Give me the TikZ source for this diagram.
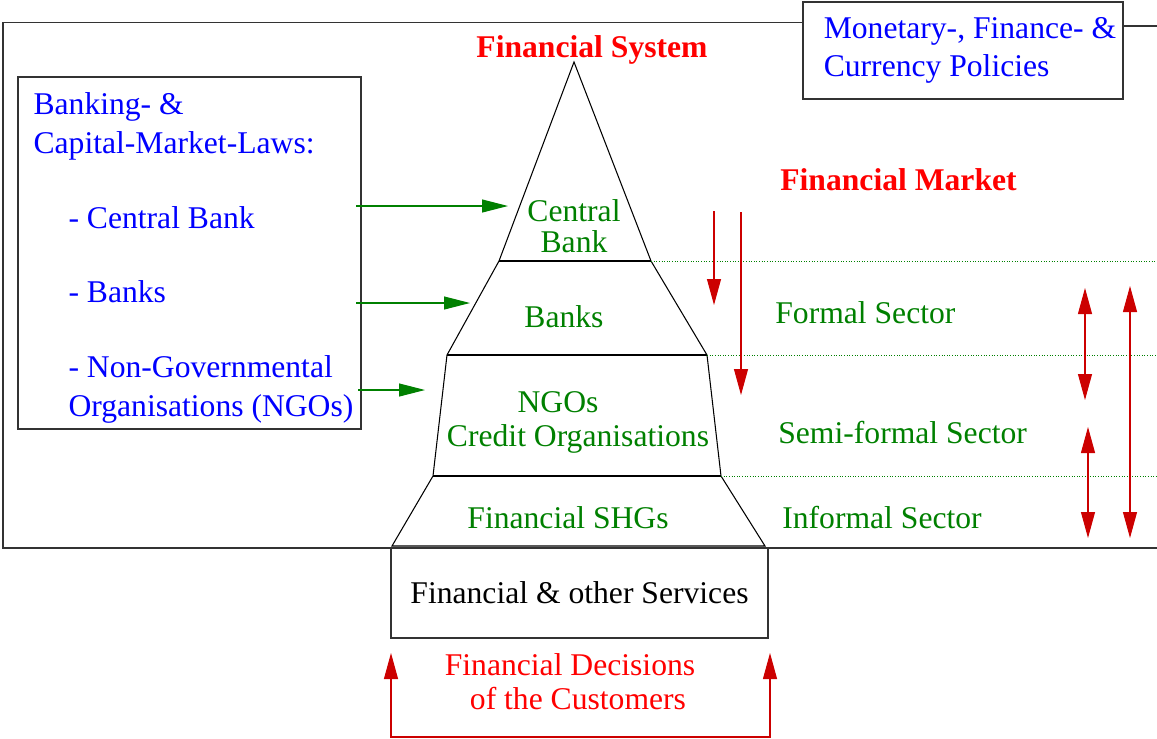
\documentclass[tikz,border=0pt]{standalone}
\usepackage{fontspec}
\setmainfont{Liberation Serif}
\usepackage{tikz}
\usetikzlibrary{calc, positioning, arrows.meta}
\tikzset{
    heading/.style={font=\fontsize{18pt}{22pt}\selectfont\bfseries, text=red, inner sep=0pt},
    lawbox/.style={rectangle, draw=black!80, thick, text=blue, align=left, minimum width=6.86cm, minimum height=7cm},
    policy/.style={rectangle, draw=black!80, thick, text=blue, align=left, minimum width=6.4cm, minimum height=1.94cm, font=\fontsize{18pt}{21.6pt}\selectfont},
    tier/.style={text=green!50!black, align=center, inner sep=0pt},
    sector/.style={text=green!50!black, anchor=base west, inner sep=0pt},
    service/.style={rectangle, draw=black!80, thick, minimum width=7.54cm, minimum height=1.8cm},
    outline/.style={draw=black, line width=0.6pt},
    frameline/.style={draw=black!80, thick},
    divider/.style={draw=green!50!black, densely dotted, line width=0.5pt},
    flow/.style={-{Triangle[length=0.52cm, width=0.26cm]}, draw=green!50!black, fill=green!50!black, line width=0.6pt},
    push/.style={-{Triangle[length=0.52cm, width=0.28cm]}, draw=red!80!black, line width=0.6pt},
    swing/.style={{Triangle[length=0.52cm, width=0.28cm]}-{Triangle[length=0.52cm, width=0.28cm]}, draw=red!80!black, line width=0.6pt}
}

\begin{document}
\begin{tikzpicture}[x=0.02cm, y=-0.02cm, font=\fontsize{18pt}{22pt}\selectfont]
        \useasboundingbox (0,0) rectangle (1157,738);

        % Policies and outer frame
        \node[policy] (Policy) at (963,50.5) {\hspace*{0.28cm}Monetary-, Finance- \&\\\hspace*{0.28cm}Currency Policies};
        \coordinate (corner) at (3,22.5);
        \coordinate (rim) at (1157,548);
        \coordinate (link) at (1157,26);
        \draw[frameline] (Policy.west |- corner) -- (corner) -- (corner |- rim) -- (rim);
        \draw[frameline] (link -| Policy.east) -- (link);

        % Laws
        \node[lawbox] (Laws) at (189.5,253) {\hspace*{0.16cm}\rule{0pt}{0.64cm}Banking- \&\\
            \hspace*{0.16cm}Capital-Market-Laws:\\[0.72cm]
            \hspace*{0.86cm}- Central Bank\\[0.72cm]
            \hspace*{0.86cm}- Banks\\[0.72cm]
            \hspace*{0.86cm}- Non-Governmental\\
            \hspace*{0.86cm}Organisations (NGOs)};

        % Pyramid corners
        \coordinate (apex) at (574,62);
        \coordinate (cbL) at (499,261);
        \coordinate (cbR) at (651,261);
        \coordinate (bkL) at (447,355);
        \coordinate (bkR) at (707,355);
        \coordinate (ngL) at (433,476);
        \coordinate (ngR) at (721,476);
        \coordinate (shL) at (392,546);
        \coordinate (shR) at (765,546);

        % Pyramid
        \draw[outline] (apex) -- (cbR) -- (bkR) -- (ngR) -- (shR) -- (shL) -- (ngL) -- (bkL) -- (cbL) -- cycle;
        \draw[outline] (cbL) -- (cbR) (bkL) -- (bkR) (ngL) -- (ngR);

        \node[heading, anchor=base] (System) at (592,57) {Financial System};
        \node[tier, font=\fontsize{18pt}{18pt}\selectfont] (CentralBank) at (574,226) {Central\\Bank};
        \node[tier, anchor=base] (Banks) at (564,327) {Banks};
        \node[tier, font=\fontsize{18pt}{19.3pt}\selectfont] (NGOs) at (578,422) {NGOs\hspace*{0.8cm}\\Credit Organisations};
        \node[tier, anchor=base] (SHGs) at (568,528) {Financial SHGs};

        % Market sectors
        \node[heading, anchor=base] (Market) at (898.5,190) {Financial Market};
        \node[sector] (Formal) at (775,323) {Formal Sector};
        \node[sector] (Semi) at (778,443) {Semi-formal Sector};
        \node[sector] (Informal) at (782,528) {Informal Sector};

        \draw[divider] (cbR) -- (cbR -| rim);
        \draw[divider] (bkR) -- (bkR -| rim);
        \draw[divider] (ngR) -- (ngR -| rim);

        % Services and customers
        \node[service] (Services) at (579.5,593) {Financial \& other Services};
        \node[text=red, align=center, font=\fontsize{18pt}{19.3pt}\selectfont] (Decisions) at (570,682) {Financial Decisions\\\hspace*{0.32cm}of the Customers};

        % Law arrows
        \coordinate (lawCB) at (356,206);
        \coordinate (tipCB) at (508,206);
        \coordinate (lawBK) at (356,303);
        \coordinate (tipBK) at (470,303);
        \coordinate (lawNG) at (358,390);
        \coordinate (tipNG) at (425,390);
        \draw[flow] (lawCB) -- (tipCB);
        \draw[flow] (lawBK) -- (tipBK);
        \draw[flow] (lawNG) -- (tipNG);

        % Market arrows
        \coordinate (dropA) at (714,211);
        \coordinate (dropAend) at (714,305);
        \coordinate (dropB) at (741,212);
        \coordinate (dropBend) at (741,395);
        \draw[push] (dropA) -- (dropAend);
        \draw[push] (dropB) -- (dropBend);

        \coordinate (upperTop) at (1085,288);
        \coordinate (upperEnd) at (1085,400);
        \coordinate (lowerTop) at (1088,427);
        \coordinate (lowerEnd) at (1088,538);
        \coordinate (longTop) at (1130,286);
        \coordinate (longEnd) at (1130,538);
        \draw[swing] (upperTop) -- (upperEnd);
        \draw[swing] (lowerTop) -- (lowerEnd);
        \draw[swing] (longTop) -- (longEnd);

        % Customer feedback
        \coordinate (decL) at (391,653);
        \coordinate (decR) at (770,653);
        \coordinate (decFoot) at (580,737);
        \draw[swing] (decL) |- (decFoot) -| (decR);

    \end{tikzpicture}
\end{document}
